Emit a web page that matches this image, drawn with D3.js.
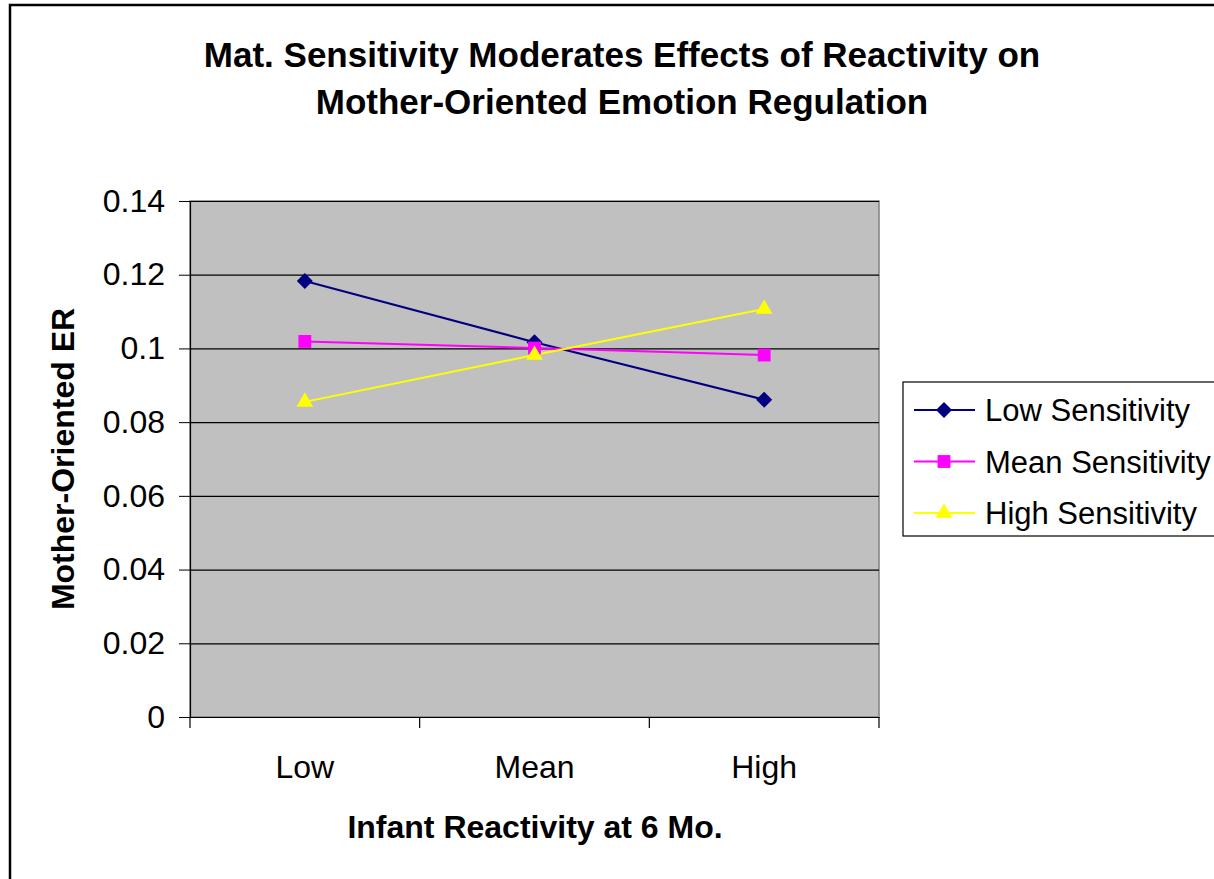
<!DOCTYPE html>
<html>
<head>
  <meta charset="UTF-8">
  <script src="https://d3js.org/d3.v7.min.js"></script>
  <style>
    body { margin: 0; background: #fff; }
    text { font-family: "Liberation Sans", Arial, sans-serif; }
  </style>
</head>
<body>
  <svg id="chart" width="1214" height="879"></svg>
  <script>
    // data
    const categories = ["Low", "Mean", "High"];
    const seriesNames = ["Low Sensitivity", "Mean Sensitivity", "High Sensitivity"];
    const lowSens = [0.1183, 0.1017, 0.0861];
    const meanSens = [0.1019, 0.1001, 0.0982];
    const highSens = [0.0855, 0.0982, 0.1107];
    const yTicks = [0, 0.02, 0.04, 0.06, 0.08, 0.1, 0.12, 0.14];

    const colors = ["#000080", "#ff00ff", "#ffff00"];
    const series = [lowSens, meanSens, highSens];

    const svg = d3.select("#chart");
    const plot = { left: 190, top: 201, right: 879, bottom: 717 };

    // marker drawing: diamond = rotated square
    function marker(sel, k) {
      if (k === 0) {
        sel.attr("d", d3.symbol().type(d3.symbolSquare).size(128))
          .attr("transform", function () { return d3.select(this).attr("transform") + " rotate(45)"; });
      } else if (k === 1) {
        sel.attr("d", d3.symbol().type(d3.symbolSquare).size(165));
      } else {
        sel.attr("d", d3.symbol().type(d3.symbolTriangle).size(120));
      }
    }

    // outer chart border
    svg.append("rect")
      .attr("x", 10).attr("y", 5)
      .attr("width", 1230).attr("height", 900)
      .attr("fill", "none").attr("stroke", "#000").attr("stroke-width", 2.5);

    // title
    svg.append("text").attr("x", 622).attr("y", 67)
      .attr("text-anchor", "middle").attr("font-weight", "bold").attr("font-size", 35)
      .text("Mat. Sensitivity Moderates Effects of Reactivity on");
    svg.append("text").attr("x", 622).attr("y", 114)
      .attr("text-anchor", "middle").attr("font-weight", "bold").attr("font-size", 35)
      .text("Mother-Oriented Emotion Regulation");

    const x = d3.scaleBand().domain(categories).range([plot.left, plot.right]);
    const y = d3.scaleLinear().domain([0, 0.14]).range([plot.bottom, plot.top]);

    // plot area
    svg.append("rect")
      .attr("x", plot.left).attr("y", plot.top)
      .attr("width", plot.right - plot.left).attr("height", plot.bottom - plot.top)
      .attr("fill", "#c0c0c0").attr("stroke", "#808080").attr("stroke-width", 1.5);

    // gridlines
    svg.append("g").attr("transform", `translate(${plot.left},0)`)
      .call(d3.axisLeft(y).tickValues(yTicks).tickSize(-(plot.right - plot.left)).tickFormat(""))
      .call(g => g.select(".domain").remove())
      .call(g => g.selectAll("line").attr("stroke", "#000").attr("stroke-width", 1.2));

    // y axis
    const yAxis = svg.append("g").attr("transform", `translate(${plot.left},0)`)
      .call(d3.axisLeft(y).tickValues(yTicks).tickSize(11).tickPadding(14).tickFormat(d => String(+d.toFixed(2))));
    yAxis.select(".domain").attr("stroke", "#000").attr("stroke-width", 1.2);
    yAxis.selectAll("text").attr("font-size", 32).attr("fill", "#000")
      .style("font-family", '"Liberation Sans", Arial, sans-serif');

    // x axis
    const xAxis = svg.append("g").attr("transform", `translate(0,${plot.bottom})`)
      .call(d3.axisBottom(x).tickSize(0).tickPadding(38));
    xAxis.select(".domain").attr("stroke", "#000").attr("stroke-width", 1.2);
    xAxis.selectAll("text").attr("font-size", 32).attr("fill", "#000")
      .style("font-family", '"Liberation Sans", Arial, sans-serif');
    // x ticks at category boundaries
    const edges = categories.map(c => x(c)).concat([plot.right]);
    svg.append("g").selectAll("line").data(edges).join("line")
      .attr("x1", d => d).attr("x2", d => d)
      .attr("y1", plot.bottom).attr("y2", plot.bottom + 11)
      .attr("stroke", "#000").attr("stroke-width", 1.2);

    // axis titles
    svg.append("text").attr("x", 535).attr("y", 838)
      .attr("text-anchor", "middle").attr("font-weight", "bold").attr("font-size", 32)
      .text("Infant Reactivity at 6 Mo.");
    svg.append("text")
      .attr("transform", `translate(74,${(plot.top + plot.bottom) / 2}) rotate(-90)`)
      .attr("text-anchor", "middle").attr("font-weight", "bold").attr("font-size", 32)
      .text("Mother-Oriented ER");

    // lines and markers
    const line = d3.line().x((d, i) => x(categories[i]) + x.bandwidth() / 2).y(d => y(d));
    series.forEach((s, k) => {
      svg.append("path").datum(s).attr("d", line)
        .attr("fill", "none").attr("stroke", colors[k]).attr("stroke-width", 2);
    });
    series.forEach((s, k) => {
      svg.append("g").selectAll("path").data(s).join("path")
        .attr("transform", (d, i) => `translate(${x(categories[i]) + x.bandwidth() / 2},${y(d)})`)
        .attr("fill", colors[k])
        .call(marker, k);
    });

    // legend
    const legend = svg.append("g");
    legend.append("rect").attr("x", 903).attr("y", 382).attr("width", 330).attr("height", 154)
      .attr("fill", "#fff").attr("stroke", "#000").attr("stroke-width", 1.2);
    seriesNames.forEach((name, k) => {
      const ly = 410 + k * 51.5;
      legend.append("line").attr("x1", 914).attr("x2", 975).attr("y1", ly).attr("y2", ly)
        .attr("stroke", colors[k]).attr("stroke-width", 2);
      legend.append("path").attr("transform", `translate(944,${ly})`)
        .attr("fill", colors[k])
        .call(marker, k);
      legend.append("text").attr("x", 985).attr("y", ly + 11).attr("font-size", 31).text(name);
    });
  </script>
</body>
</html>
